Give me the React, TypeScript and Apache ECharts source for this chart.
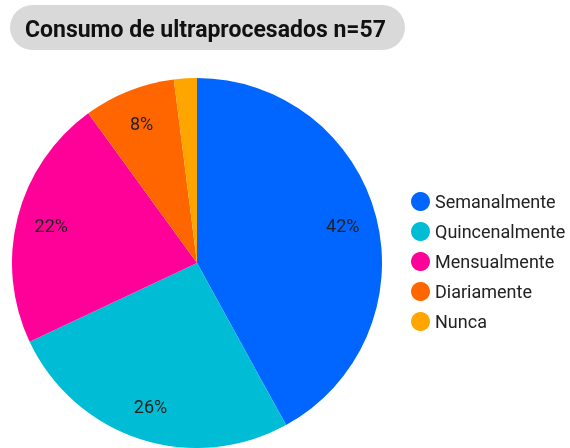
import React, { useEffect, useRef } from "react";
import * as echarts from "echarts";

const categories = ["Semanalmente", "Quincenalmente", "Mensualmente", "Diariamente", "Nunca"];
const values = [42, 26, 22, 8, 2];
const colors = ["#0066ff", "#00bcd4", "#ff0099", "#ff6600", "#ffa500"];
const titleText = "Consumo de ultraprocesados n=57";

export default function App() {
  const ref = useRef<HTMLDivElement>(null);
  useEffect(() => {
    if (!ref.current) return;
    const chart = echarts.init(ref.current, null, { renderer: "svg" });
    const data = categories.map((name, i) => ({ name, value: values[i], itemStyle: { color: colors[i] } }));
    const font = "Roboto";
    chart.setOption({
      animation: false,
      graphic: [
        { type: "rect", shape: { x: 10, y: 5, width: 395, height: 45, r: 22.5 }, style: { fill: "#d9d9d9" } },
        {
          type: "text",
          x: 25,
          y: 29,
          style: { text: titleText, font: `bold 23px ${font}`, fill: "#111", textVerticalAlign: "middle", verticalAlign: "middle" },
        },
      ],
      legend: {
        orient: "vertical",
        left: 406,
        top: 187,
        icon: "circle",
        itemWidth: 19,
        itemHeight: 19,
        itemGap: 11,
        data: categories,
        textStyle: { fontFamily: font, fontSize: 18, color: "#222" },
      },
      series: [
        {
          type: "pie",
          center: [197, 263],
          radius: [0, 185],
          startAngle: 90,
          clockwise: true,
          silent: true,
          label: { show: false },
          labelLine: { show: false },
          itemStyle: { borderWidth: 0 },
          data,
        },
        {
          type: "pie",
          center: [197, 263],
          radius: [110, 185],
          startAngle: 90,
          clockwise: true,
          silent: true,
          percentPrecision: 0,
          itemStyle: { color: "transparent", borderWidth: 0 },
          label: {
            show: true,
            position: "inside",
            formatter: (p: any) => (p.percent < 5 ? "" : `${Math.round(p.percent)}%`),
            fontFamily: font,
            fontSize: 18,
            color: "#222",
          },
          labelLine: { show: false },
          data: categories.map((name, i) => ({ name, value: values[i], itemStyle: { color: "transparent" } })),
        },
      ],
    });
    return () => chart.dispose();
  }, []);
  return <div ref={ref} style={{ position: "fixed", left: 0, top: 0, width: 570, height: 448 }} />;
}
